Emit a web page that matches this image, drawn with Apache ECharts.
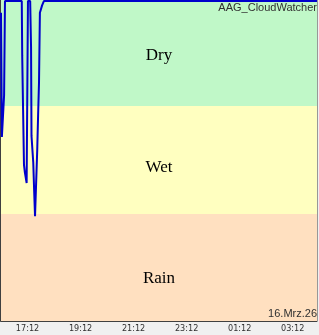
<!DOCTYPE html>
<html>
<head>
<meta charset="utf-8">
<script src="https://cdn.jsdelivr.net/npm/echarts@6/dist/echarts.min.js"></script>
<style>
html,body{margin:0;padding:0;background:#f0f0f0;}
#c{width:319px;height:335px;}
</style>
</head>
<body>
<div id="c"></div>
<script>
// Data
var times = ['16:12','16:14','16:17','16:19','16:21','16:59','17:00','17:02','17:04','17:06','17:10','17:13','17:18','17:20','17:21','17:25','17:27','17:29','17:31','17:34','17:36','17:38','17:40','17:45','17:49','04:07'];
var values = [288,172,172,211,299,299,248,197,146,139,129,299,299,256,173,148,122,98,98,160,193,223,288,295,299,299];
var bandNames = ['Dry','Wet','Rain'];
var bandLimits = [[201,300],[100,201],[0,100]];
var bandColors = ['#c0f8c8','#ffffc0','#ffe0c0'];
var startTime = '16:12';
var endMinutes = 715;
var tickLabels = ['17:12','19:12','21:12','23:12','01:12','03:12'];
var title = 'AAG_CloudWatcher';
var dateText = '16.Mrz.26';

function toMin(s){var p=s.split(':');return (+p[0])*60+(+p[1]);}
var base = toMin(startTime);
function offset(s){var m=toMin(s)-base; if(m<0) m+=1440; return m;}
function fmt(m){var t=(base+m)%1440;var h=Math.floor(t/60),mm=t%60;return (h<10?'0':'')+h+':'+(mm<10?'0':'')+mm;}

var lineData = times.map(function(t,i){return [offset(t), values[i]];});
var bandOffsets = [3,8,11];

var chart = echarts.init(document.getElementById('c'));
chart.setOption({
  animation:false,
  backgroundColor:'#f0f0f0',
  title:[
    {text:title, right:2, top:2, padding:0, textStyle:{fontSize:11, fontWeight:'normal', fontFamily:'Liberation Sans, Arial', color:'#303030'}},
    {text:dateText, right:2, top:308, padding:0, textStyle:{fontSize:11, fontWeight:'normal', fontFamily:'Liberation Sans, Arial', color:'#303030'}}
  ],
  grid:{left:1, right:2, top:0, bottom:14, show:true, borderColor:'#404040', borderWidth:1},
  xAxis:{
    type:'value', min:0, max:endMinutes, interval:60,
    axisLine:{show:true, lineStyle:{color:'#404040', width:1}},
    axisTick:{show:true, inside:true, length:3, lineStyle:{color:'#404040'}},
    splitLine:{show:false},
    axisLabel:{
      showMinLabel:false, showMaxLabel:false, margin:3,
      fontSize:9, color:'#303030', fontFamily:'Liberation Sans Narrow, Arial Narrow, DejaVu Sans Condensed, sans-serif',
      formatter:function(v){var s=fmt(v); return tickLabels.indexOf(s)>=0 ? s : '';}
    }
  },
  yAxis:{
    type:'value', min:0, max:300,
    axisLine:{show:true, lineStyle:{color:'#404040', width:2}},
    axisTick:{show:false}, axisLabel:{show:false}, splitLine:{show:false}
  },
  series:[
    {
      type:'line', data:[], z:1, silent:true,
      markArea:{
        silent:true,
        data: bandNames.map(function(n,i){
          return [{name:n, yAxis:bandLimits[i][0], itemStyle:{color:bandColors[i]},
                   label:{show:true, position:'inside', offset:[0,bandOffsets[i]], color:'#000', fontSize:17, fontFamily:'Liberation Serif, Times New Roman, serif'}},
                  {yAxis:bandLimits[i][1]}];
        })
      }
    },
    {
      type:'line', data:lineData, z:3, showSymbol:false, symbol:'none',
      lineStyle:{color:'#0000cc', width:2}
    }
  ]
});
</script>
</body>
</html>
